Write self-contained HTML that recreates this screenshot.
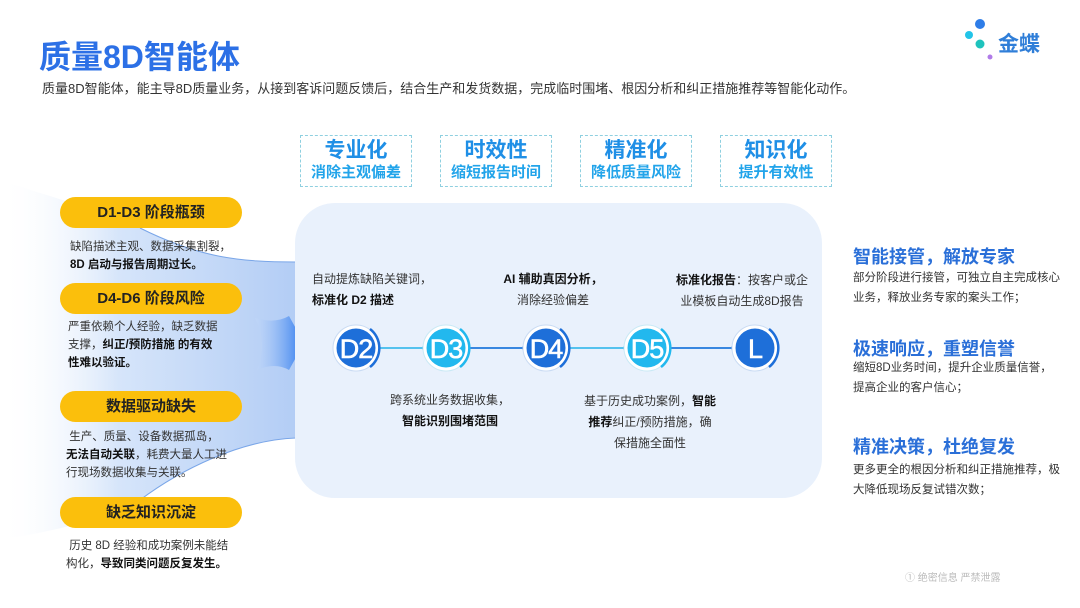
<!DOCTYPE html>
<html><head><meta charset="utf-8">
<style>
*{margin:0;padding:0;box-sizing:border-box}
body{width:1080px;height:608px;background:#fff;font-family:"Liberation Sans","Noto Sans CJK SC",sans-serif;position:relative;overflow:hidden;color:#333}
.a{position:absolute;white-space:nowrap}
.title{left:39px;top:32px;font-size:32px;font-weight:bold;color:#2c70e6}
.sub{left:42px;top:78px;font-size:13px;color:#333}
.box{position:absolute;top:135px;width:112px;height:52px;border:1.5px dashed #8fd0e0;text-align:center;background:#fff}
.box b{display:block;font-size:21px;color:#1f8fe6;line-height:24px;margin-top:3px}
.box span{display:block;font-size:15px;font-weight:bold;color:#22a4ea;line-height:20px}
.pill{position:absolute;left:60px;width:182px;height:31px;border-radius:16px;background:#fbbf0c;text-align:center;font-size:15px;font-weight:bold;line-height:31px;color:#222}
.d{position:absolute;font-size:11.5px;line-height:18px;color:#333}
.d b{color:#111}
.panel{position:absolute;left:295px;top:203px;width:527px;height:295px;border-radius:40px;background:#e9f1fc}
.t{position:absolute;font-size:12px;line-height:21px;color:#333}
.t b{color:#111}
.h{position:absolute;left:853px;font-size:18px;font-weight:bold;color:#2a6fd8}
.r{position:absolute;left:853px;font-size:11.5px;line-height:20px;color:#333}
</style></head><body>
<div class="a title">质量8D智能体</div>
<div class="a sub">质量8D智能体，能主导8D质量业务，从接到客诉问题反馈后，结合生产和发货数据，完成临时围堵、根因分析和纠正措施推荐等智能化动作。</div>
<svg class="a" style="left:960px;top:18px" width="40" height="45"><circle cx="20" cy="6" r="5" fill="#2e7de8"/><circle cx="9" cy="17" r="4" fill="#22c4e8"/><circle cx="20" cy="26" r="4.5" fill="#1ec3bd"/><circle cx="30" cy="39" r="2.5" fill="#b07be8"/></svg>
<div class="a" style="left:998px;top:28px;font-size:21px;font-weight:bold;color:#2f7ed8">金蝶</div>

<div class="box" style="left:300px"><b>专业化</b><span>消除主观偏差</span></div>
<div class="box" style="left:440px"><b>时效性</b><span>缩短报告时间</span></div>
<div class="box" style="left:580px"><b>精准化</b><span>降低质量风险</span></div>
<div class="box" style="left:720px"><b>知识化</b><span>提升有效性</span></div>

<svg class="a" style="left:0;top:0" width="310" height="608">
<defs><linearGradient id="g" x1="0" x2="1"><stop offset="0" stop-color="#fff" stop-opacity="0"/><stop offset="0.4" stop-color="#d6e5fa"/><stop offset="1" stop-color="#b3cdf5"/></linearGradient>
<linearGradient id="g2" x1="0" x2="1"><stop offset="0" stop-color="#c8dcfa" stop-opacity="0.3"/><stop offset="1" stop-color="#2a78ee"/></linearGradient></defs>
<path d="M0 180 C60 200 100 210 140 228 C200 258 240 262 296 262 L296 438 C240 440 180 470 140 500 C100 520 60 530 0 540 Z" fill="url(#g)"/>
<path d="M140 228 C200 258 240 262 296 262" stroke="#7aa6e8" stroke-width="1" fill="none"/>
<path d="M140 500 C180 470 240 440 296 438" stroke="#7aa6e8" stroke-width="1" fill="none"/>
<path d="M255 318 Q275 324 289 316 L304 343 L289 370 Q275 362 257 370 Q268 343 255 318Z" fill="url(#g2)"/>
</svg>

<div class="pill" style="top:197px">D1-D3 阶段瓶颈</div>
<div class="d" style="left:70px;top:238px">缺陷描述主观、数据采集割裂，<br><b>8D 启动与报告周期过长。</b></div>
<div class="pill" style="top:283px">D4-D6 阶段风险</div>
<div class="d" style="left:68px;top:318px">严重依赖个人经验，缺乏数据<br>支撑，<b>纠正/预防措施 的有效<br>性难以验证。</b></div>
<div class="pill" style="top:391px">数据驱动缺失</div>
<div class="d" style="left:66px;top:428px">&nbsp;生产、质量、设备数据孤岛，<br><b>无法自动关联</b>，耗费大量人工进<br>行现场数据收集与关联。</div>
<div class="pill" style="top:497px">缺乏知识沉淀</div>
<div class="d" style="left:66px;top:537px">&nbsp;历史 8D 经验和成功案例未能结<br>构化，<b>导致同类问题反复发生。</b></div>

<div class="panel"></div>
<svg class="a" style="left:295px;top:300px" width="527" height="100">
<line x1="60" y1="48" x2="460" y2="48" stroke="#23b2ea" stroke-width="1.5"/>
<line x1="150" y1="48" x2="250" y2="48" stroke="#1e6fd9" stroke-width="1.5"/>
<line x1="355" y1="48" x2="460" y2="48" stroke="#1e6fd9" stroke-width="1.5"/>
<g font-family="Liberation Sans" font-size="27" fill="#fff" text-anchor="middle" letter-spacing="-1">
<g transform="translate(61,48)"><circle r="23" fill="#fff" stroke="#c9dbf3"/><circle r="19.5" fill="#1e6fd9"/><path d="M14 -19 A24 24 0 0 1 14 19" stroke="#1e6fd9" stroke-width="2.5" fill="none"/><text y="10" stroke="#fff" stroke-width="0.6">D2</text></g>
<g transform="translate(151,48)"><circle cx="-21" r="3" fill="#23b2ea"/><circle r="23" fill="#fff" stroke="#c9e9f5"/><circle r="19.5" fill="#22b8ee"/><path d="M14 -19 A24 24 0 0 1 14 19" stroke="#22b8ee" stroke-width="2.5" fill="none"/><text y="10" stroke="#fff" stroke-width="0.6">D3</text></g>
<g transform="translate(251,48)"><circle cx="-21" r="3" fill="#1e6fd9"/><circle r="23" fill="#fff" stroke="#c9dbf3"/><circle r="19.5" fill="#1e6fd9"/><path d="M14 -19 A24 24 0 0 1 14 19" stroke="#1e6fd9" stroke-width="2.5" fill="none"/><text y="10" stroke="#fff" stroke-width="0.6">D4</text></g>
<g transform="translate(352,48)"><circle cx="-21" r="3" fill="#23b2ea"/><circle r="23" fill="#fff" stroke="#c9e9f5"/><circle r="19.5" fill="#22b8ee"/><path d="M14 -19 A24 24 0 0 1 14 19" stroke="#22b8ee" stroke-width="2.5" fill="none"/><text y="10" stroke="#fff" stroke-width="0.6">D5</text></g>
<g transform="translate(460,48)"><circle cx="-21" r="3" fill="#1e6fd9"/><circle r="23" fill="#fff" stroke="#c9dbf3"/><circle r="19.5" fill="#1e6fd9"/><path d="M14 -19 A24 24 0 0 1 14 19" stroke="#1e6fd9" stroke-width="2.5" fill="none"/><text y="10" stroke="#fff" stroke-width="0.6">L</text></g>
</g></svg>

<div class="t" style="left:312px;top:269px">自动提炼缺陷关键词，<br><b>标准化 D2 描述</b></div>
<div class="t" style="left:493px;top:269px;width:120px;text-align:center"><b>AI 辅助真因分析，</b><br>消除经验偏差</div>
<div class="t" style="left:666px;top:270px;width:152px;text-align:center"><b>标准化报告</b>：按客户或企<br>业模板自动生成8D报告</div>
<div class="t" style="left:385px;top:390px;width:130px;text-align:center">跨系统业务数据收集，<br><b>智能识别围堵范围</b></div>
<div class="t" style="left:580px;top:391px;width:140px;text-align:center">基于历史成功案例，<b>智能<br>推荐</b>纠正/预防措施，确<br>保措施全面性</div>

<div class="h" style="top:243px">智能接管，解放专家</div>
<div class="r" style="top:268px">部分阶段进行接管，可独立自主完成核心<br>业务，释放业务专家的案头工作；</div>
<div class="h" style="top:335px">极速响应，重塑信誉</div>
<div class="r" style="top:358px">缩短8D业务时间，提升企业质量信誉，<br>提高企业的客户信心；</div>
<div class="h" style="top:433px">精准决策，杜绝复发</div>
<div class="r" style="top:460px">更多更全的根因分析和纠正措施推荐，极<br>大降低现场反复试错次数；</div>
<div class="a" style="left:905px;top:569px;font-size:10px;color:#bbb">① 绝密信息 严禁泄露</div>
</body></html>
